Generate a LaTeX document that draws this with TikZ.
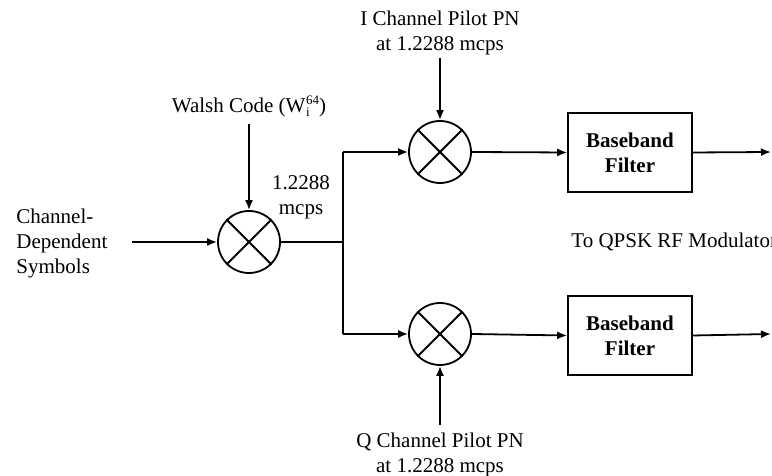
\documentclass[tikz,border=0pt]{standalone}
\usepackage{fontspec}
\setmainfont{Liberation Serif}
\usepackage{tikz}
\usetikzlibrary{positioning, calc}
\usetikzlibrary{arrows.meta}

\tikzset{
  mixer/.style={draw,circle,line width=0.9pt,inner sep=0pt,minimum size=31pt},
  filterbox/.style={draw,line width=0.8pt,minimum width=62pt,minimum height=39.5pt,align=center,inner sep=1pt,font=\fontsize{10.5}{12.5}\selectfont\bfseries},
  sig/.style={line width=0.9pt},
  label/.style={align=center,inner sep=1pt}
}

\newcommand{\mixcross}[1]{%
  \draw[sig] (#1.north west) -- (#1.south east);
  \draw[sig] (#1.north east) -- (#1.south west);
}

\begin{document}
\begin{tikzpicture}[x=0.5pt,y=0.5pt,font=\fontsize{10.5}{12.5}\selectfont,>={Latex[length=5pt,width=4pt]}]

\useasboundingbox (0,0) rectangle (772,476);

% ==================== Ingresso e Walsh ====================
\node[mixer] (mix1) at (249,234) {};
\mixcross{mix1}
\node[label,anchor=west,align=left] (sym) at (14,233) {Channel-\\Dependent\\Symbols};
\coordinate (symin) at (132,234);
\draw[sig,->] (symin) -- (mix1.west);

\node[label] (walsh) at (249,368) {Walsh Code (W\kern0.3pt\raisebox{-2pt}{\fontsize{6.5}{6}\selectfont\begin{tabular}[b]{@{}l@{}}64\\i\end{tabular}})};
\coordinate (walshin) at (249,352);
\draw[sig,->] (walshin) -- (mix1.north);

\node[label] (rate) at (301,279) {1.2288\\mcps};

% ==================== Diramazione ====================
\coordinate (split) at (343,234);
\coordinate (splitI) at (343,324);
\coordinate (splitQ) at (343,142);
\draw[sig] (mix1.east) -- (split);
\draw[sig] (splitQ) -- (splitI);

% ==================== Ramo I ====================
\node[mixer] (mixI) at (440,324) {};
\mixcross{mixI}
\node[label] (pnI) at (440,443) {I Channel Pilot PN\\at 1.2288 mcps};
\coordinate (pnIin) at (440,418);
\draw[sig,->] (pnIin) -- (mixI.north);
\draw[sig,->] (splitI) -- (mixI.west);

\node[filterbox] (filtI) at (630,323.5) {Baseband\\Filter};
\draw[sig,->] (mixI.east) -- (filtI.west);
\coordinate (outI) at (771,324);
\draw[sig,->] (filtI.east) -- (outI);

% ==================== Ramo Q ====================
\node[mixer] (mixQ) at (440,142) {};
\mixcross{mixQ}
\node[label] (pnQ) at (440,21) {Q Channel Pilot PN\\at 1.2288 mcps};
\coordinate (pnQin) at (440,51);
\draw[sig,->] (pnQin) -- (mixQ.south);
\draw[sig,->] (splitQ) -- (mixQ.west);

\node[filterbox] (filtQ) at (630,140.5) {Baseband\\Filter};
\draw[sig,->] (mixQ.east) -- (filtQ.west);
\coordinate (outQ) at (771,142);
\draw[sig,->] (filtQ.east) -- (outQ);

\node[label,anchor=west] (qpsk) at (569,234) {To QPSK RF Modulator};

\end{tikzpicture}
\end{document}
